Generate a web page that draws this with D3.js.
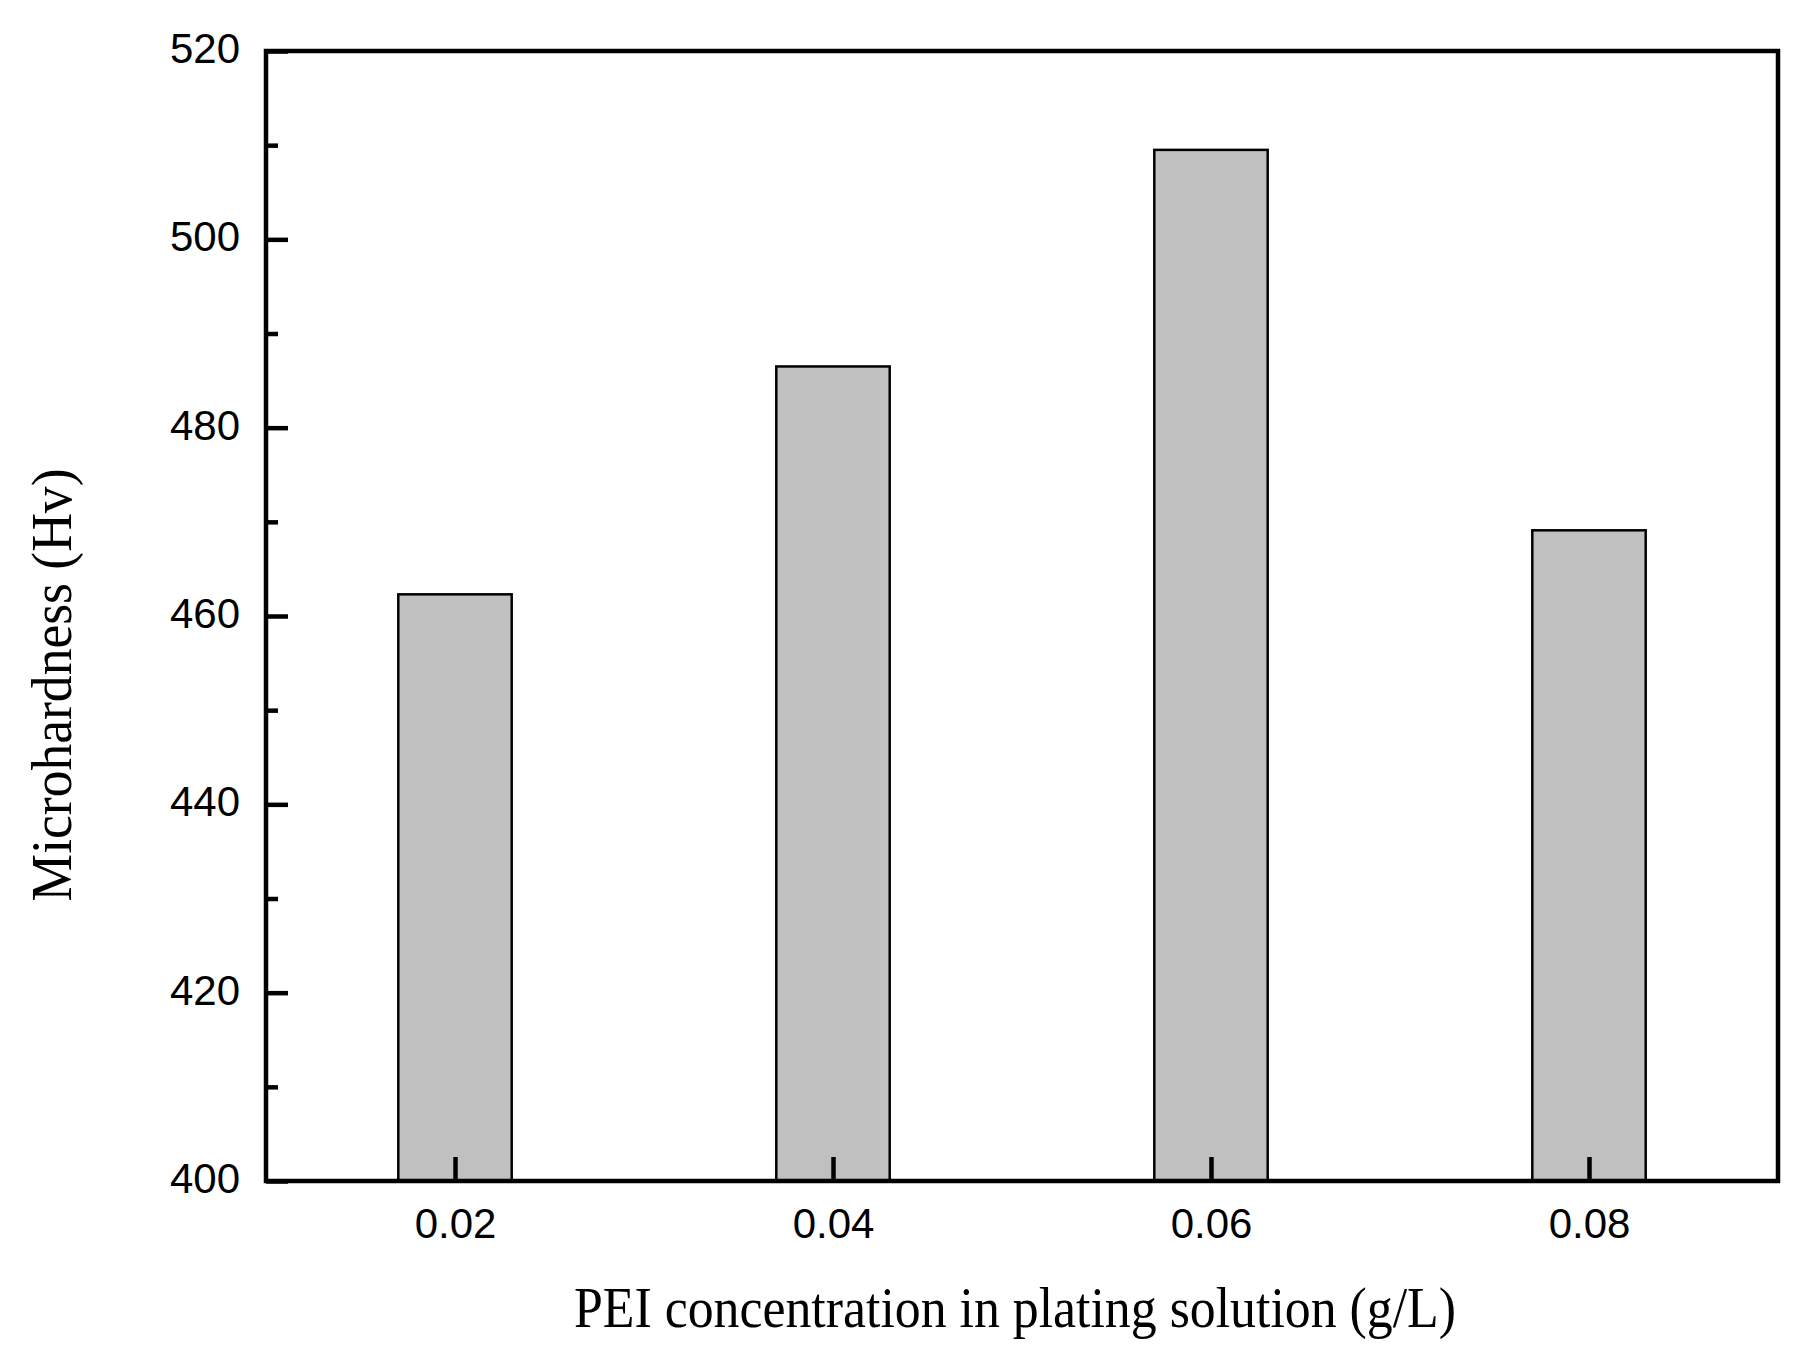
<!DOCTYPE html>
<html>
<head>
<meta charset="UTF-8" />
<script src="https://d3js.org/d3.v7.min.js"></script>
<title>Microhardness vs PEI concentration</title>
<style>
  body { margin: 0; background: #fff; }
  svg { display: block; }
</style>
</head>
<body>
<div id="chart"></div>
<script>
// data
const concentrations = [0.02, 0.04, 0.06, 0.08];
const hardness = [462.3, 486.5, 509.5, 469.1];
const yMajorTicks = [400, 420, 440, 460, 480, 500, 520];
const yMinorTicks = [410, 430, 450, 470, 490, 510];

const W = 1801, H = 1363;
const m = {left: 266, right: 1778, top: 51, bottom: 1181};

const svg = d3.select("#chart").append("svg")
  .attr("width", W).attr("height", H);

const x = d3.scaleLinear().domain([0.01, 0.09]).range([m.left, m.right]);
const y = d3.scaleLinear().domain([400, 520]).range([m.bottom, m.top]);
const barW = x(0.016) - x(0.01);

// bars
svg.append("g").selectAll("rect")
  .data(concentrations)
  .join("rect")
  .attr("x", d => x(d) - barW / 2)
  .attr("y", (d, i) => y(hardness[i]))
  .attr("width", barW)
  .attr("height", (d, i) => y(400) - y(hardness[i]))
  .attr("fill", "#c0c0c0")
  .attr("stroke", "#000")
  .attr("stroke-width", 2.5);

// x axis, ticks pointing inward
const xAxis = svg.append("g")
  .attr("transform", `translate(0,${m.bottom})`)
  .call(d3.axisBottom(x).tickValues(concentrations)
    .tickSize(-24).tickPadding(27).tickFormat(d3.format(".2f")));

// y axis major + minor
const yAxis = svg.append("g")
  .attr("transform", `translate(${m.left},0)`)
  .call(d3.axisLeft(y).tickValues(yMajorTicks).tickSize(-22).tickPadding(26));
const yMinor = svg.append("g")
  .attr("transform", `translate(${m.left},0)`)
  .call(d3.axisLeft(y).tickValues(yMinorTicks).tickSize(-12).tickFormat(""));

[xAxis, yAxis, yMinor].forEach(g => {
  g.select(".domain").remove();
  g.selectAll(".tick line").attr("stroke", "#000").attr("stroke-width", 4.5);
  g.selectAll("text")
    .attr("fill", "#000")
    .style("font-family", "'Liberation Sans', Arial, sans-serif")
    .style("font-size", "42px");
});
yAxis.selectAll("text").attr("dy", "0.27em");

// frame
svg.append("rect")
  .attr("x", m.left).attr("y", m.top)
  .attr("width", m.right - m.left).attr("height", m.bottom - m.top)
  .attr("fill", "none").attr("stroke", "#000").attr("stroke-width", 4.5);

// axis titles (slightly condensed like the original)
svg.append("text")
  .attr("x", 1015).attr("y", 1327)
  .attr("text-anchor", "middle")
  .attr("textLength", 882).attr("lengthAdjust", "spacingAndGlyphs")
  .style("font-family", "'Liberation Serif', 'Times New Roman', serif")
  .style("font-size", "57px")
  .text("PEI concentration in plating solution (g/L)");

svg.append("text")
  .attr("transform", "translate(71,685) rotate(-90)")
  .attr("text-anchor", "middle")
  .attr("textLength", 433).attr("lengthAdjust", "spacingAndGlyphs")
  .style("font-family", "'Liberation Serif', 'Times New Roman', serif")
  .style("font-size", "57px")
  .text("Microhardness (Hv)");
</script>
</body>
</html>
